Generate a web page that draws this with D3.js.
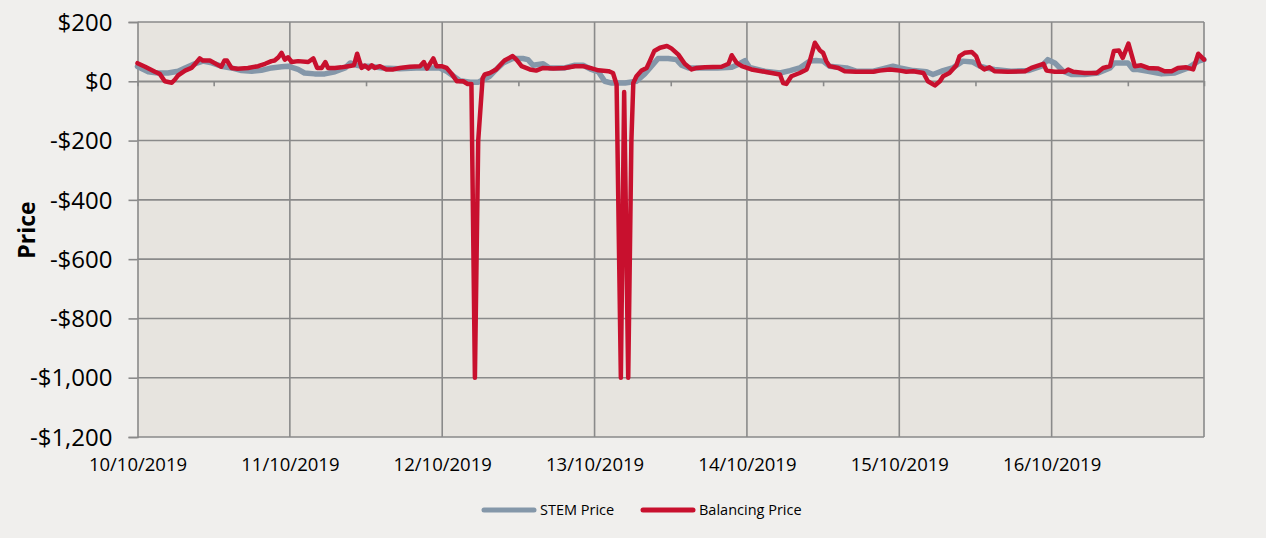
<!DOCTYPE html>
<html>
<head>
<meta charset="utf-8">
<script src="https://cdn.jsdelivr.net/npm/d3@7"></script>
<style>
  html, body { margin: 0; padding: 0; background: #f0efed; }
  svg { display: block; }
  text { font-family: "Open Sans", "Liberation Sans", sans-serif; fill: #000; }
</style>
</head>
<body>
<svg id="chart" width="1266" height="538"></svg>
<script>
// ---- Data (hours since 10/10/2019 00:00, price in $) ----
const seriesNames = ["STEM Price", "Balancing Price"];
const dayLabels = ["10/10/2019", "11/10/2019", "12/10/2019", "13/10/2019", "14/10/2019", "15/10/2019", "16/10/2019"];
const yTickValues = [200, 0, -200, -400, -600, -800, -1000, -1200];
const yTickLabels = ["$200", "$0", "-$200", "-$400", "-$600", "-$800", "-$1,000", "-$1,200"];

const stemHours = [0,1.7,3.2,4.8,6.4,7.5,9.0,10.3,11.7,13.2,14.8,16.4,18.0,19.5,21.1,22.7,23.7,25.3,26.3,27.9,29.5,31.1,32.7,33.5,34.5,35.5,36.6,38.6,41.3,43.9,46.0,47.6,48.7,49.8,50.8,52.4,53.7,54.5,55.5,56.5,57.6,59.1,60.7,61.5,62.3,63.9,64.9,67.3,68.9,70.2,71.5,72.6,73.6,74.7,76.8,78.6,79.9,81.2,82.0,83.6,84.9,85.7,86.8,88.3,91.4,93.6,94.6,95.7,96.4,98.8,101.2,102.8,104.3,105.9,106.9,108.0,109.0,111.7,113.2,115.9,117.5,119.0,120.1,122.2,124.3,125.3,126.9,128.4,130.0,131.6,132.7,133.7,135.0,137.6,140.3,142.4,143.4,144.5,145.8,147.1,149.2,151.3,153.2,153.9,156.0,156.8,157.6,159.2,161.3,163.4,165.5,167.1,168];
const stemValues = [50,32,28,28,34,45,59,68,62,51,45,36,34,37,45,49,51,40,28,25,25,32,45,62,54,51,51,45,42,45,45,45,34,17,2,-3,-3,6,17,40,62,77,77,73,54,59,45,45,54,54,40,32,0,-6,-6,0,25,57,77,77,73,54,45,45,45,47,57,70,47,34,28,36,45,68,70,68,51,45,34,34,43,51,45,36,32,23,36,45,68,65,51,45,40,34,36,51,73,62,34,23,23,28,45,62,62,40,40,34,25,28,45,68,73];

const balHours = [0,1.2,2.75,3.5,4.3,5.4,5.9,6.4,7.5,8.5,9.0,9.8,10.3,11.4,12.5,13.2,13.7,14.1,14.8,15.8,17.4,19.0,20.1,21.1,21.6,22.2,22.7,23.2,23.7,24.3,25.3,26.9,27.7,28.3,29.0,29.6,30.0,31.1,32.1,33.2,34.1,34.6,35.3,35.8,36.4,36.9,37.4,38.2,39.2,40.3,41.3,42.9,44.5,45.1,45.6,46.6,47.1,47.9,48.7,49.5,50.3,51.3,52.0,52.6,53.15,53.67,54.36,54.7,55.5,56.5,57.1,57.8,59.1,59.7,60.5,61.8,62.8,63.9,65.5,67.3,68.9,70.2,71.3,72.6,74.2,74.9,75.47,76.14,76.66,77.3,77.8,78.1,78.6,79.4,80.2,80.7,81.4,82.3,83.4,84.1,85.2,86.2,87.3,88.1,89.4,92.0,93.1,93.6,94.4,95.2,96.7,98.8,101.2,101.7,102.2,103.0,104.3,105.4,105.9,106.7,107.5,108.0,108.5,109.0,110.4,111.4,113.2,115.9,116.9,118.5,120.1,121.1,122.2,123.8,124.5,125.6,126.4,126.9,127.9,129.0,129.5,130.3,131.4,132.1,132.7,133.4,134.2,135.0,137.1,139.8,140.8,142.7,143.2,144.5,146.1,146.6,147.4,149.2,151.1,152.1,153.2,153.8,154.6,155.2,156.1,157.1,158.1,159.2,160.8,161.8,162.9,163.9,165.2,166.3,167.1,168];
const balValues = [61,49,32,25,0,-5,6,20,36,45,57,77,70,70,57,49,70,70,45,42,45,51,59,68,70,81,96,73,81,65,68,65,77,45,45,65,45,45,47,51,54,93,45,53,43,54,45,51,40,40,45,49,51,65,43,77,51,51,45,25,0,0,-9,-9,-1000,-200,10,23,28,40,54,70,85,73,51,40,36,45,43,45,51,51,45,37,34,28,-11,-1000,-36,-1000,-200,-6,17,36,45,68,102,113,119,111,90,59,40,45,47,49,59,88,62,51,40,32,23,-6,-9,17,28,40,68,130,104,96,68,51,45,34,32,32,36,40,36,32,34,28,0,-14,0,17,28,54,85,96,99,85,51,40,47,34,32,34,45,59,36,32,32,40,32,28,28,45,51,102,104,79,127,51,54,45,43,34,34,45,47,40,93,73];

// ---- Layout ----
const svg = d3.select("#chart");
const plotLeft = 137.5, plotRight = 1204, plotTop = 22, plotBottom = 437;
const x = d3.scaleLinear().domain([0, 168]).range([plotLeft, plotRight]);
const y = d3.scaleLinear().domain([-1200, 200]).range([plotBottom, plotTop]);
const gridColor = "#8a8a8a";

// plot background
svg.append("rect").attr("x", plotLeft).attr("y", plotTop)
  .attr("width", plotRight - plotLeft).attr("height", plotBottom - plotTop)
  .attr("fill", "#e7e4df");

// horizontal gridlines
svg.append("g").selectAll("line").data(yTickValues).join("line")
  .attr("x1", plotLeft).attr("x2", plotRight)
  .attr("y1", d => y(d)).attr("y2", d => y(d))
  .attr("stroke", gridColor).attr("stroke-width", 1.6);

// vertical gridlines (day boundaries)
const dayHours = d3.range(1, 8).map(d => d * 24);
svg.append("g").selectAll("line").data(dayHours).join("line")
  .attr("x1", d => x(d)).attr("x2", d => x(d))
  .attr("y1", plotTop).attr("y2", plotBottom)
  .attr("stroke", gridColor).attr("stroke-width", 1.6);

// y axis
const yAxis = d3.axisLeft(y).tickValues(yTickValues)
  .tickFormat(d => yTickLabels[yTickValues.indexOf(d)])
  .tickSize(9).tickPadding(16);
const gy = svg.append("g").attr("transform", `translate(${plotLeft},0)`).call(yAxis);
gy.select(".domain").attr("stroke", gridColor).attr("stroke-width", 1.6);
gy.selectAll(".tick line").attr("stroke", gridColor).attr("stroke-width", 1.6);
gy.selectAll(".tick text").style("font-size", "24px").attr("fill", "#000")
  .attr("dy", "0.34em")
  .style("font-family", '"Open Sans", sans-serif');

// x axis line at zero with minor ticks at noon
const xAxisZero = d3.axisBottom(x).tickValues(d3.range(0, 7).map(d => d * 24 + 12))
  .tickSize(5).tickFormat("");
const gx0 = svg.append("g").attr("transform", `translate(0,${y(0)})`).call(xAxisZero);
gx0.select(".domain").attr("stroke", gridColor).attr("stroke-width", 1.6);
gx0.selectAll(".tick line").attr("stroke", gridColor).attr("stroke-width", 1.6);

// day labels at bottom
const xLabelAxis = d3.axisBottom(x).tickValues(d3.range(0, 7).map(d => d * 24))
  .tickSize(0).tickPadding(21)
  .tickFormat(d => dayLabels[d / 24]);
const gxl = svg.append("g").attr("transform", `translate(0,${plotBottom})`).call(xLabelAxis);
gxl.select(".domain").remove();
gxl.selectAll(".tick text").style("font-size", "18.5px").attr("fill", "#000")
  .style("font-family", '"Open Sans", sans-serif');

// lines
const stemData = stemHours.map((h, i) => [h, stemValues[i]]);
const balData = balHours.map((h, i) => [h, balValues[i]]);
const line = d3.line().x(d => x(d[0])).y(d => y(d[1]));
svg.append("path").datum(stemData).attr("d", line)
  .attr("fill", "none").attr("stroke", "#8497a9").attr("stroke-width", 5.5)
  .attr("stroke-linejoin", "round").attr("stroke-linecap", "round");
svg.append("path").datum(balData).attr("d", line)
  .attr("fill", "none").attr("stroke", "#c8102e").attr("stroke-width", 4.5)
  .attr("stroke-linejoin", "round").attr("stroke-linecap", "round");

// y title
svg.append("text").attr("transform", "translate(35,230) rotate(-90)")
  .attr("text-anchor", "middle").style("font-size", "23px").style("font-weight", "bold")
  .text("Price");

// legend
const legend = [
  { name: seriesNames[0], color: "#8497a9", x1: 484, x2: 534, tx: 540 },
  { name: seriesNames[1], color: "#c8102e", x1: 643, x2: 693, tx: 699 }
];
const lg = svg.append("g");
legend.forEach(l => {
  lg.append("line").attr("x1", l.x1).attr("x2", l.x2).attr("y1", 510).attr("y2", 510)
    .attr("stroke", l.color).attr("stroke-width", 5).attr("stroke-linecap", "round");
  lg.append("text").attr("x", l.tx).attr("y", 515).style("font-size", "14.5px").text(l.name);
});
</script>
</body>
</html>
